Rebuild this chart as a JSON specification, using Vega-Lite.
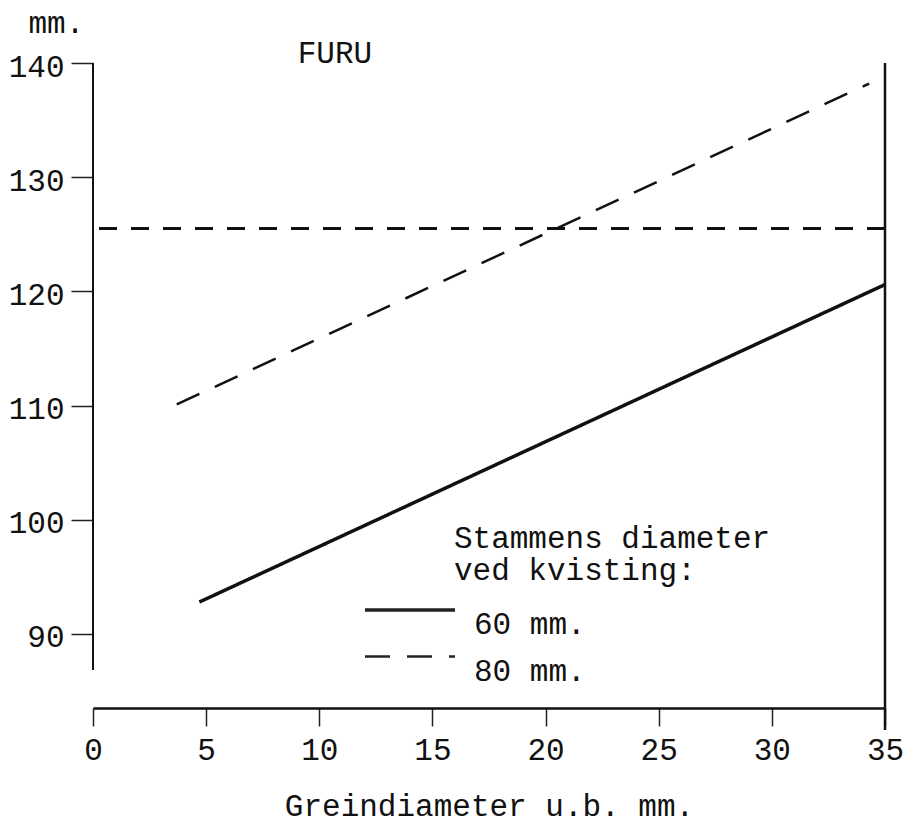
{
  "$schema": "https://vega.github.io/schema/vega-lite/v6.json",
  "autosize": {"type": "none"},
  "padding": {"left": 93, "top": 63, "right": 34, "bottom": 118},
  "width": 792,
  "height": 645,
  "background": "white",
  "config": {
    "font": "Liberation Mono",
    "view": {"stroke": null},
    "axis": {
      "grid": false,
      "labelFont": "Liberation Mono",
      "labelFontSize": 31,
      "labelColor": "#111",
      "titleFont": "Liberation Mono",
      "titleFontSize": 31,
      "titleFontWeight": "normal",
      "titleColor": "#111",
      "tickColor": "#222",
      "domainColor": "#111"
    }
  },
  "datasets": {
    "linjer": [
      {"stamme": "60 mm.", "grein": 4.7, "lengde": 92.8},
      {"stamme": "60 mm.", "grein": 35, "lengde": 120.6},
      {"stamme": "80 mm.", "grein": 3.7, "lengde": 110.1},
      {"stamme": "80 mm.", "grein": 34.3, "lengde": 138.2}
    ],
    "en": [{"n": 1}]
  },
  "layer": [
    {
      "data": {"name": "en"},
      "mark": {"type": "rule", "color": "#111", "strokeWidth": 2},
      "encoding": {
        "x": {"datum": 0, "type": "quantitative"},
        "y": {"datum": 86.85, "type": "quantitative"},
        "y2": {"datum": 140}
      }
    },
    {
      "data": {"name": "en"},
      "mark": {"type": "rule", "color": "#111", "strokeWidth": 2.5},
      "encoding": {
        "x": {"datum": 35, "type": "quantitative"},
        "y": {"datum": 81.6, "type": "quantitative"},
        "y2": {"datum": 140}
      }
    },
    {
      "data": {"name": "en"},
      "mark": {"type": "rule", "color": "#111", "strokeWidth": 3, "strokeDash": [18, 14]},
      "encoding": {
        "y": {"datum": 125.5, "type": "quantitative"}
      }
    },
    {
      "data": {"name": "linjer"},
      "mark": {"type": "line", "color": "#111"},
      "encoding": {
        "x": {
          "field": "grein",
          "type": "quantitative",
          "scale": {"domain": [0, 35], "nice": false, "zero": false},
          "axis": {
            "values": [0, 5, 10, 15, 20, 25, 30, 35],
            "title": "Greindiameter u.b. mm.",
            "domainWidth": 2.5,
            "tickSize": 18,
            "tickWidth": 1.5,
            "labelPadding": 9,
            "labelFlush": false,
            "titleX": 396,
            "titleY": 107,
            "titleBaseline": "alphabetic",
            "titleAlign": "center"
          }
        },
        "y": {
          "field": "lengde",
          "type": "quantitative",
          "scale": {"domain": [83.52, 140], "nice": false, "zero": false},
          "axis": {
            "values": [90, 100, 110, 120, 130, 140],
            "title": "mm.",
            "domain": false,
            "tickSize": 22,
            "tickWidth": 1.5,
            "labelPadding": 7,
            "labelOffset": 4,
            "labelFlush": false,
            "titleAngle": 0,
            "titleAlign": "left",
            "titleBaseline": "alphabetic",
            "titleX": -65,
            "titleY": -31
          }
        },
        "strokeDash": {
          "field": "stamme",
          "type": "nominal",
          "scale": {"domain": ["60 mm.", "80 mm."], "range": [[1, 0], [25, 17]]},
          "legend": {
            "title": null,
            "orient": "none",
            "legendX": 300,
            "legendY": 530,
            "padding": 0,
            "symbolType": "M-3,0H3",
            "symbolSize": 900,
            "symbolStrokeWidth": 1.5,
            "symbolStrokeColor": "#222",
            "symbolFillColor": "transparent",
            "labelFont": "Liberation Mono",
            "labelFontSize": 31,
            "labelColor": "#111",
            "labelOffset": 47,
            "labelBaseline": "top",
            "rowPadding": 0
          }
        },
        "strokeWidth": {
          "field": "stamme",
          "type": "nominal",
          "scale": {"domain": ["60 mm.", "80 mm."], "range": [3.5, 2.5]},
          "legend": null
        }
      }
    },
    {
      "data": {"name": "en"},
      "mark": {
        "type": "text",
        "align": "left",
        "baseline": "alphabetic",
        "font": "Liberation Mono",
        "fontSize": 31,
        "fontWeight": "normal",
        "lineHeight": 32,
        "color": "#111"
      },
      "encoding": {
        "x": {"datum": 15.95, "type": "quantitative"},
        "y": {"datum": 97.53, "type": "quantitative"},
        "text": {"value": ["Stammens diameter", "ved kvisting:"]}
      }
    },
    {
      "data": {"name": "en"},
      "mark": {
        "type": "text",
        "align": "center",
        "baseline": "alphabetic",
        "font": "Liberation Mono",
        "fontSize": 31,
        "fontWeight": "normal",
        "color": "#111"
      },
      "encoding": {
        "x": {"datum": 10.69, "type": "quantitative"},
        "y": {"datum": 140, "type": "quantitative"},
        "text": {"value": "FURU"}
      }
    }
  ]
}
